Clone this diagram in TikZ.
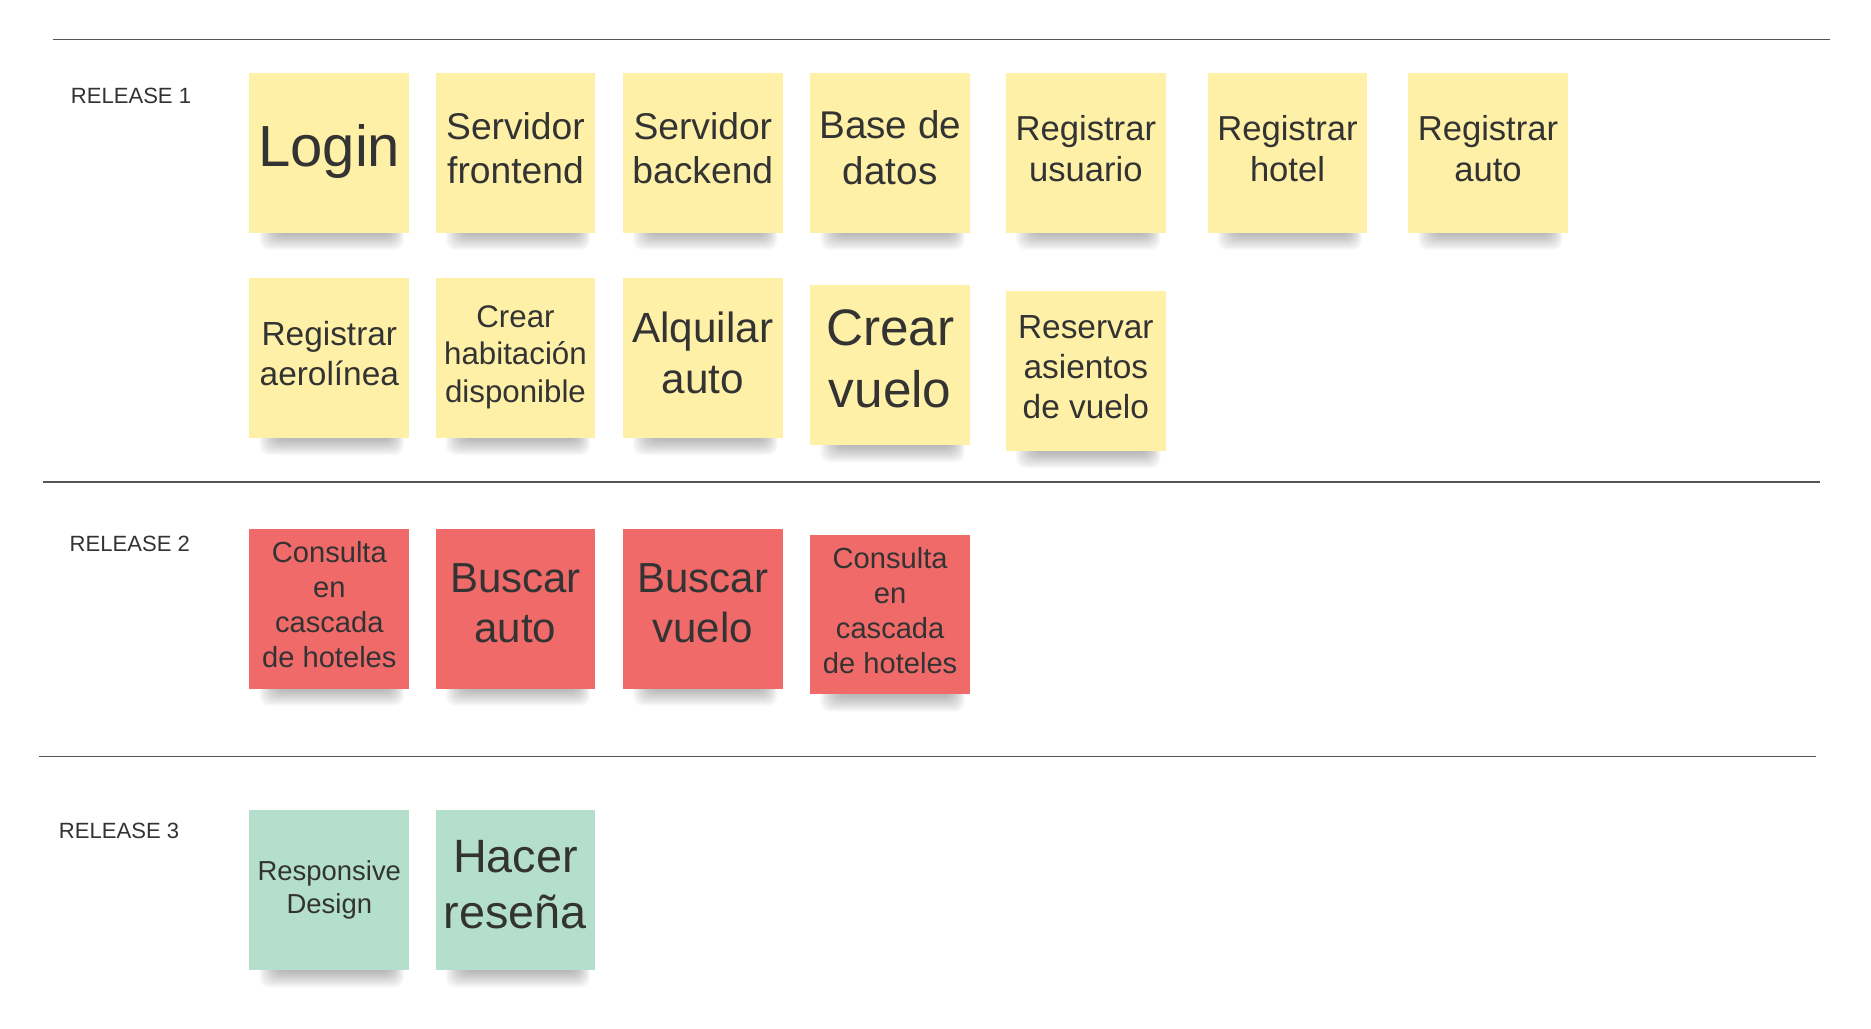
\documentclass[tikz,border=0pt]{standalone}
\usepackage{fontspec}
\setmainfont{Liberation Sans}
\usetikzlibrary{calc,backgrounds}
\definecolor{yel}{HTML}{FEF0A6}
\definecolor{redc}{HTML}{F06A6A}
\definecolor{grn}{HTML}{B4DFCC}
\definecolor{txt}{HTML}{333333}
\definecolor{rulec}{HTML}{555555}
\newcommand\fsz[1]{\fontsize{#1}{\fpeval{1.2*#1}}\selectfont}
\begin{document}
\begin{tikzpicture}[x=0.5pt,y=-0.5pt,
  sticky/.style={minimum width=67pt, minimum height=67pt, inner sep=0pt, align=center, text=txt,
    execute at end node={\rule[-0.26em]{0pt}{0.26em}}},
  ybox/.style={sticky, fill=yel},
  rbox/.style={sticky, fill=redc},
  gbox/.style={sticky, fill=grn},
  relabel/.style={anchor=west, text=txt, font=\fsz{9.25}, inner sep=0pt},
  rulerline/.style={draw=rulec, line width=0.6pt}]
\useasboundingbox (0,0) rectangle (1568,862);

% separator lines
\coordinate (l1a) at (44,33);   \coordinate (l1b) at (1534,33);
\coordinate (l2a) at (36,404);  \coordinate (l2b) at (1525,404);
\coordinate (l3a) at (33,634);  \coordinate (l3b) at (1522,634);
\draw[rulerline] (l1a) -- (l1b);
\draw[rulerline] (l2a) -- (l2b);
\draw[rulerline] (l3a) -- (l3b);

% release labels
\node[relabel] (rel1) at (59,80) {RELEASE 1};
\node[relabel] (rel2) at (58,456) {RELEASE 2};
\node[relabel] (rel3) at (49,696) {RELEASE 3};

% release 1, row 1
\node[ybox, font=\fsz{24.3}] (login) at (276,128) {Login};
\node[ybox, font=\fsz{15.6}] (sfront) at (432,128) {Servidor\\frontend};
\node[ybox, font=\fsz{15.6}] (sback) at (589,128) {Servidor\\backend};
\node[ybox, font=\fsz{16.2}] (bdatos) at (746,128) {Base de\\datos};
\node[ybox, font=\fsz{14.5}] (rusu) at (910,128) {Registrar\\usuario};
\node[ybox, font=\fsz{14.5}] (rhotel) at (1079,128) {Registrar\\hotel};
\node[ybox, font=\fsz{14.5}] (rauto) at (1247,128) {Registrar\\auto};
% release 1, row 2
\node[ybox, font=\fsz{14}] (raero) at (276,300) {Registrar\\aerolínea};
\node[ybox, font=\fsz{13.1}] (chab) at (432,300) {Crear\\habitación\\disponible};
\node[ybox, font=\fsz{17.7}] (aauto) at (589,300) {Alquilar\\auto};
\node[ybox, font=\fsz{21.5}] (cvuelo) at (746,306) {Crear\\vuelo};
\node[ybox, font=\fsz{14}] (rasi) at (910,311) {Reservar\\asientos\\de vuelo};
% release 2
\node[rbox, font=\fsz{12.2}] (cons1) at (276,510) {Consulta\\en\\cascada\\de hoteles};
\node[rbox, font=\fsz{17.6}] (bauto) at (432,510) {Buscar\\auto};
\node[rbox, font=\fsz{17.6}] (bvuelo) at (589,510) {Buscar\\vuelo};
\node[rbox, font=\fsz{12.2}] (cons2) at (746,515) {Consulta\\en\\cascada\\de hoteles};
% release 3
\node[gbox, font=\fsz{11.5}] (resp) at (276,746) {Responsive\\Design};
\node[gbox, font=\fsz{19.6}] (hres) at (432,746) {Hacer\\reseña};

% soft shadows
\begin{scope}[on background layer]
\foreach \n in {login,sfront,sback,bdatos,rusu,rhotel,rauto,raero,chab,aauto,cvuelo,rasi,cons1,bauto,bvuelo,cons2,resp,hres} {
  \foreach \k in {1,...,10} {
    \fill[black, opacity=0.032, rounded corners=4pt]
      ($(\n.south west)+(24-1.5*\k,-12)$) rectangle ($(\n.south east)+(-16+1.1*\k,1.4*\k)$);
  }
}
\end{scope}
\end{tikzpicture}
\end{document}
